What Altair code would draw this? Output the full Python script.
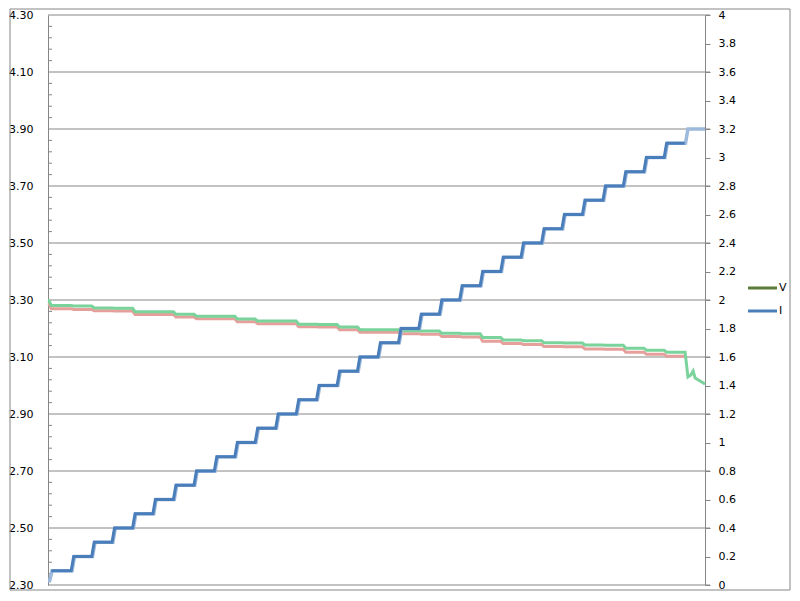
import altair as alt
import pandas as pd

# ---- data ----
LEFT_TICKS = [2.30, 2.50, 2.70, 2.90, 3.10, 3.30, 3.50, 3.70, 3.90, 4.10, 4.30]
RIGHT_TICKS = [0, 0.2, 0.4, 0.6, 0.8, 1.0, 1.2, 1.4, 1.6, 1.8, 2.0, 2.2, 2.4,
               2.6, 2.8, 3.0, 3.2, 3.4, 3.6, 3.8, 4.0]

CURRENT_LEVELS = [0.1, 0.2, 0.3, 0.4, 0.5, 0.6, 0.7, 0.8, 0.9, 1.0, 1.1, 1.2,
                  1.3, 1.4, 1.5, 1.6, 1.7, 1.8, 1.9, 2.0, 2.1, 2.2, 2.3, 2.4,
                  2.5, 2.6, 2.7, 2.8, 2.9, 3.0, 3.1, 3.2]
STEP_TIMES = [0.10, 1.19, 2.19, 3.18, 4.18, 5.17, 6.17, 7.17, 8.16, 9.16,
              10.15, 11.15, 12.15, 13.14, 14.14, 15.13, 16.13, 17.13, 18.12,
              19.12, 20.11, 21.11, 22.11, 23.10, 24.10, 25.09, 26.09, 27.09,
              28.08, 29.08, 30.07, 31.07]
I_START = 0.03

V_GREEN_START = 3.298
V_GREEN = [3.281, 3.279, 3.272, 3.271, 3.259, 3.259, 3.250, 3.243, 3.243,
           3.233, 3.226, 3.226, 3.215, 3.214, 3.205, 3.196, 3.196, 3.192,
           3.191, 3.183, 3.182, 3.168, 3.160, 3.157, 3.150, 3.149, 3.142,
           3.141, 3.131, 3.124, 3.117]
GREEN_TAIL_T = [31.03, 31.17, 31.30, 31.42, 31.52, 31.76, 32.0]
GREEN_TAIL_V = [3.117, 3.030, 3.036, 3.051, 3.026, 3.016, 3.005]

V_RED_START = 3.289
V_RED = [3.269, 3.267, 3.262, 3.261, 3.249, 3.249, 3.240, 3.234, 3.234,
         3.224, 3.217, 3.217, 3.206, 3.205, 3.196, 3.187, 3.187, 3.182,
         3.180, 3.172, 3.170, 3.155, 3.147, 3.144, 3.137, 3.136, 3.128,
         3.127, 3.117, 3.110, 3.103]

LEGEND_NAMES = ["V", "I"]
LEGEND_COLORS = ["#5B7C3B", "#4A7EBB"]


def stepped(t0, v0, times, levels, t_end, off=0.0, half=0.06):
    ts, vs, prev = [t0], [v0], v0
    for t, lv in zip(times, levels):
        ts += [t - half + off, t + half + off]
        vs += [prev, lv]
        prev = lv
    ts.append(t_end)
    vs.append(prev)
    return ts, vs


def frame(ts, vs):
    return pd.DataFrame({"t": ts, "v": vs, "i": list(range(len(ts)))})


t, v = stepped(STEP_TIMES[0] + 0.06, CURRENT_LEVELS[0], STEP_TIMES[1:31],
               CURRENT_LEVELS[1:31], STEP_TIMES[31] - 0.06)
df_i_dark = frame(t, v)
t, v = stepped(0.0, I_START, STEP_TIMES, CURRENT_LEVELS, 32.0, off=0.04)
df_i_light = frame(t, v)
t, v = stepped(0.0, V_GREEN_START, STEP_TIMES[:31], V_GREEN, GREEN_TAIL_T[0])
df_green = frame(t + GREEN_TAIL_T[1:], v + GREEN_TAIL_V[1:])
t, v = stepped(0.0, V_RED_START, STEP_TIMES[:31], V_RED, 31.0)
df_red = frame(t, v)

df_grid = pd.DataFrame({"y": LEFT_TICKS})
df_minor = pd.DataFrame({"y": [round(2.30 + 0.04 * k, 2) for k in range(51) if k % 5 != 0]})

GRAY = "#868686"
FONT = "DejaVu Sans"

x_enc = alt.X("t:Q", scale=alt.Scale(domain=[0, 32], nice=False, zero=False), axis=None)
left_scale = alt.Scale(domain=[2.3, 4.3], nice=False, zero=False)
right_scale = alt.Scale(domain=[0, 4], nice=False, zero=True)

left_axis = alt.Axis(values=LEFT_TICKS, format=".2f", ticks=False, tickSize=0,
                     grid=False, domainColor=GRAY, labelFont=FONT, labelFontSize=11,
                     labelColor="#000000", labelPadding=15, title=None, orient="left")
right_axis = alt.Axis(values=RIGHT_TICKS, format="~g", ticks=True, tickSize=5,
                      tickColor=GRAY, grid=False, domainColor=GRAY, labelFont=FONT,
                      labelFontSize=11, labelColor="#000000", labelPadding=8,
                      title=None, orient="right")

grid = alt.Chart(df_grid).mark_rule(color=GRAY, strokeWidth=1).encode(
    y=alt.Y("y:Q", scale=left_scale, axis=left_axis),
    x=alt.value(0), x2=alt.value(662))
minor = alt.Chart(df_minor).mark_rule(color=GRAY, strokeWidth=1).encode(
    y=alt.Y("y:Q", scale=left_scale, axis=left_axis),
    x=alt.value(0), x2=alt.value(4))
red = alt.Chart(df_red).mark_line(color="#E6A09B", strokeWidth=3).encode(
    x=x_enc, y=alt.Y("v:Q", scale=left_scale, axis=left_axis), order="i:Q")
green = alt.Chart(df_green).mark_line(color="#7AD39B", strokeWidth=3).encode(
    x=x_enc, y=alt.Y("v:Q", scale=left_scale, axis=left_axis), order="i:Q")
left_group = alt.layer(grid, minor, red, green)

light = alt.Chart(df_i_light).mark_line(color="#9DB9DC", strokeWidth=3.5).encode(
    x=x_enc, y=alt.Y("v:Q", scale=right_scale, axis=right_axis), order="i:Q")
dark = alt.Chart(df_i_dark).mark_line(color="#4A7EBB", strokeWidth=3).encode(
    x=x_enc, y=alt.Y("v:Q", scale=right_scale, axis=right_axis), order="i:Q")
right_group = alt.layer(light, dark)

legend_layers = []
for k, (name, col) in enumerate(zip(LEGEND_NAMES, LEGEND_COLORS)):
    ypix = 273 + 23 * k
    d = pd.DataFrame({"label": [name]})
    legend_layers.append(alt.Chart(d).mark_rule(color=col, strokeWidth=3).encode(
        x=alt.value(700), x2=alt.value(729), y=alt.value(ypix)))
    legend_layers.append(alt.Chart(d).mark_text(
        align="left", baseline="middle", font=FONT, fontSize=11, color="#000000").encode(
        x=alt.value(731), y=alt.value(ypix), text="label:N"))

border = alt.Chart(pd.DataFrame({"a": [0]})).mark_rect(
    fill="transparent", stroke=GRAY, strokeWidth=1).encode(
    x=alt.value(-38), x2=alt.value(742), y=alt.value(-6), y2=alt.value(575))

chart = alt.layer(left_group, right_group, *legend_layers, border).resolve_scale(
    y="independent"
).properties(
    width=657, height=570,
    autosize=alt.AutoSizeParams(type="none"),
    padding={"left": 40, "top": 7, "right": 87, "bottom": 6},
    background="white",
).configure_view(strokeWidth=0)

chart.save("out.html", embed_options={"renderer": "svg", "actions": False})
